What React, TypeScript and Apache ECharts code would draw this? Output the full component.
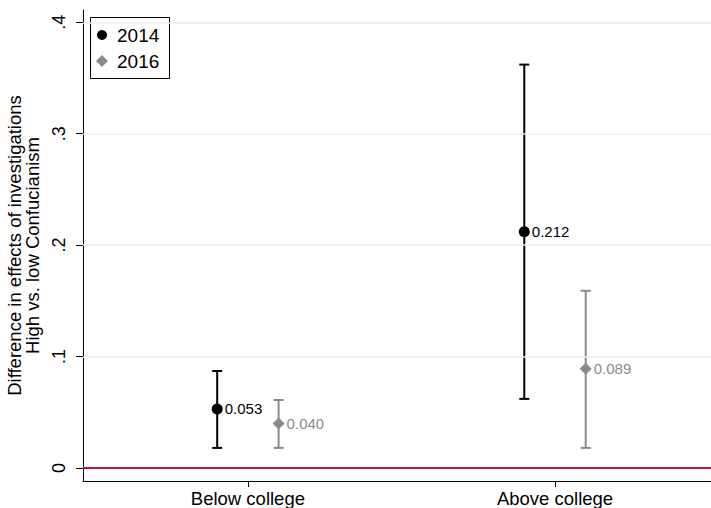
import React, { useEffect, useRef } from "react";
import * as echarts from "echarts";

const categories = ["Below college", "Above college"];
const categoryPos = [1, 2];
const years = ["2014", "2016"];
const offsets = [-0.1, 0.1];
const est2014 = [0.053, 0.212];
const low2014 = [0.018, 0.062];
const high2014 = [0.087, 0.362];
const est2016 = [0.040, 0.089];
const low2016 = [0.018, 0.018];
const high2016 = [0.061, 0.159];
const yTicks = [0, 0.1, 0.2, 0.3, 0.4];
const gridTicks = [0.1, 0.2, 0.3, 0.4];

const FONT = "'Liberation Sans', Arial, sans-serif";

export default function App() {
  const ref = useRef<HTMLDivElement>(null);
  useEffect(() => {
    if (!ref.current) return;
    const chart = echarts.init(ref.current, undefined, { renderer: "svg" });
    const colors = ["#000000", "#8a8a8a"];
    const ests = [est2014, est2016];
    const lows = [low2014, low2016];
    const highs = [high2014, high2016];

    const errSeries = years.map((y, i) => ({
      name: "err" + y,
      type: "custom",
      z: 3,
      renderItem: (params: any, api: any) => {
        const x = api.value(0);
        const p1 = api.coord([x, api.value(1)]);
        const p2 = api.coord([x, api.value(2)]);
        const half = 5;
        const st = { stroke: colors[i], lineWidth: 2 };
        return {
          type: "group",
          children: [
            { type: "line", shape: { x1: p1[0], y1: p1[1], x2: p2[0], y2: p2[1] }, style: st },
            { type: "line", shape: { x1: p1[0] - half, y1: p1[1], x2: p1[0] + half, y2: p1[1] }, style: st },
            { type: "line", shape: { x1: p2[0] - half, y1: p2[1], x2: p2[0] + half, y2: p2[1] }, style: st },
          ],
        };
      },
      encode: { x: 0, y: [1, 2] },
      data: categoryPos.map((c, k) => [c + offsets[i], lows[i][k], highs[i][k]]),
    }));

    const pointSeries = years.map((y, i) => ({
      name: y,
      type: "scatter",
      z: 5,
      symbol: i === 0 ? "circle" : "diamond",
      symbolSize: i === 0 ? 11 : 12,
      itemStyle: { color: colors[i], opacity: 1 },
      label: {
        show: true,
        position: "right",
        distance: 2,
        color: colors[i],
        fontSize: 15,
        fontFamily: FONT,
        formatter: (p: any) => p.value[1].toFixed(3),
      },
      data: categoryPos.map((c, k) => [c + offsets[i], ests[i][k]]),
    }));

    const refSeries = {
      name: "ref",
      type: "line",
      data: [],
      silent: true,
      markLine: {
        symbol: "none",
        silent: true,
        label: { show: false },
        data: [
          ...gridTicks.map((t) => ({ yAxis: t, lineStyle: { color: "#e6eff1", width: 1.5, type: "solid" } })),
          { yAxis: 0, lineStyle: { color: "#c4143c", width: 2, type: "solid" } },
        ],
      },
    };

    chart.setOption({
      animation: false,
      textStyle: { fontFamily: FONT },
      grid: { left: 83, right: 0, top: 10, bottom: 27, containLabel: false, outerBoundsMode: "none" },
      graphic: [
        {
          type: "group",
          left: 90,
          top: 17,
          z: 100,
          children: [
            { type: "rect", shape: { x: 0.5, y: 0.5, width: 79, height: 61 }, style: { fill: "#fff", stroke: "#000", lineWidth: 1 } },
            { type: "circle", shape: { cx: 12, cy: 18, r: 5 }, style: { fill: colors[0] } },
            { type: "text", x: 27, y: 18, style: { text: years[0], fontSize: 19, fill: "#000", fontFamily: FONT, verticalAlign: "middle" } },
            { type: "polygon", shape: { points: [[12, 38], [18, 44], [12, 50], [6, 44]] }, style: { fill: colors[1] } },
            { type: "text", x: 27, y: 44, style: { text: years[1], fontSize: 19, fill: "#000", fontFamily: FONT, verticalAlign: "middle" } },
          ],
        },
      ],
      xAxis: {
        type: "value",
        min: 0.463,
        max: 2.508,
        splitLine: { show: false },
        axisLine: { show: true, onZero: false, lineStyle: { color: "#000", width: 1 } },
        axisTick: { show: true, length: 6, customValues: categoryPos, lineStyle: { color: "#000" } },
        axisLabel: {
          customValues: categoryPos,
          formatter: (v: number) => categories[categoryPos.indexOf(Math.round(v))] ?? "",
          fontSize: 18.5,
          color: "#000",
          margin: 8,
          fontFamily: FONT,
        },
      },
      yAxis: {
        type: "value",
        min: -0.0117,
        max: 0.411,
        name: "Difference in effects of investigations\nHigh vs. low Confucianism",
        nameLocation: "middle",
        nameRotate: 90,
        nameGap: 35,
        nameTextStyle: { fontSize: 18.5, color: "#000", lineHeight: 18, fontFamily: FONT },
        splitLine: { show: false },
        axisLine: { show: true, lineStyle: { color: "#000", width: 1 } },
        axisTick: { show: true, length: 7, customValues: yTicks, lineStyle: { color: "#000" } },
        axisLabel: {
          customValues: yTicks,
          rotate: 90,
          fontSize: 18,
          color: "#000",
          margin: 15,
          fontFamily: FONT,
          formatter: (v: number) => (v === 0 ? "0" : "." + Math.round(v * 10)),
        },
      },
      series: [refSeries, ...errSeries, ...pointSeries],
    });
    return () => chart.dispose();
  }, []);
  return <div ref={ref} style={{ width: 711, height: 508, position: "absolute", left: 0, top: 0, background: "#fff" }} />;
}
